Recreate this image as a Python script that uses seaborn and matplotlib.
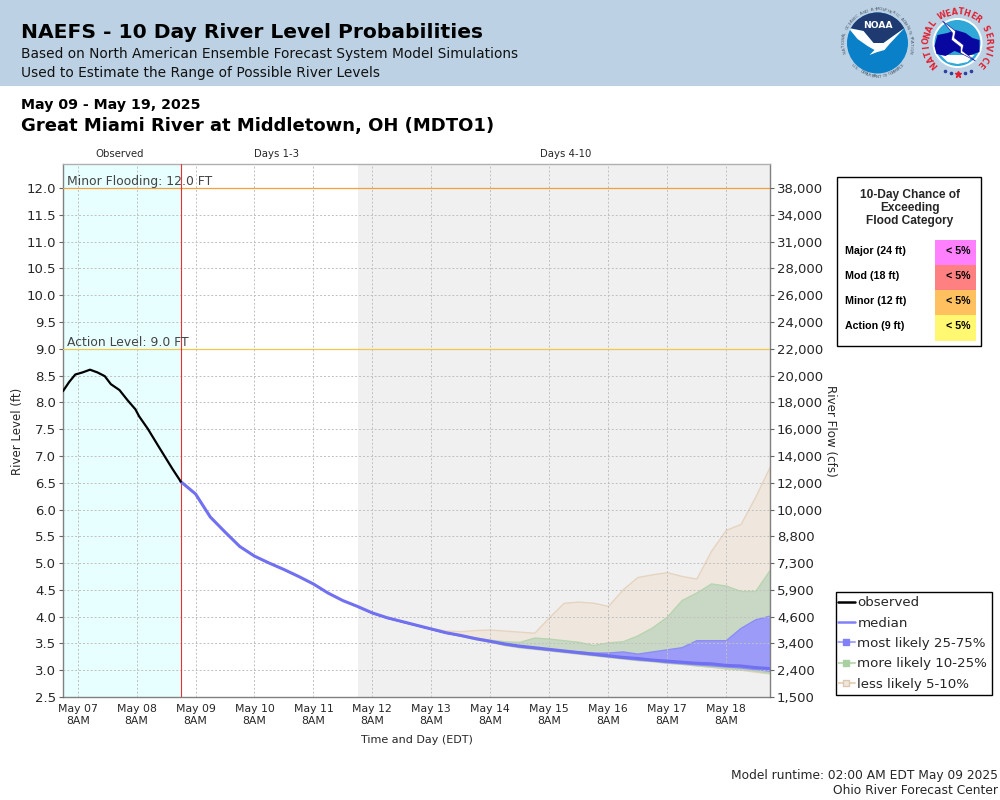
"""
NAEFS 10 day river level probabilities
Great Miami River at Middletown
"""

import numpy as np
import pandas as pd
import matplotlib
matplotlib.use("Agg")
import matplotlib.pyplot as plt
import matplotlib.dates as mdates
from matplotlib.patches import Circle, Polygon, Rectangle
from matplotlib.lines import Line2D
from matplotlib.legend_handler import HandlerTuple
import seaborn as sns

sns.set_style("white")

# hours after May 07 02:00
obs_hours = [0, 2.5, 5, 8, 11, 14, 17, 19.5, 23, 26.3, 29.5, 31, 34.5, 36.5, 39.3, 42, 44.7, 48]
obs_level = [8.21, 8.38, 8.52, 8.56, 8.61, 8.56, 8.49, 8.34, 8.23, 8.04, 7.87, 7.74,
             7.51, 7.36, 7.15, 6.95, 6.75, 6.52]

# forecast is every 6 hours from May 09 02:00
median = [6.52, 6.29, 5.86, 5.58, 5.31, 5.13, 5.00, 4.88, 4.75, 4.61, 4.44, 4.30,
          4.19, 4.07, 3.98, 3.91, 3.84, 3.77, 3.70, 3.65, 3.59, 3.54, 3.49, 3.45,
          3.42, 3.39, 3.36, 3.33, 3.30, 3.27, 3.24, 3.22, 3.19, 3.17, 3.15, 3.13,
          3.12, 3.09, 3.08, 3.05, 3.03]

# bands start at May 12 02:00
upper_95 = [4.19, 4.07, 3.99, 3.92, 3.85, 3.79, 3.74, 3.73, 3.75, 3.76, 3.74, 3.72,
            3.70, 3.99, 4.26, 4.28, 4.26, 4.20, 4.51, 4.74, 4.79, 4.83, 4.76, 4.71,
            5.23, 5.62, 5.73, 6.24, 6.81]
upper_90 = [4.19, 4.07, 3.98, 3.91, 3.84, 3.78, 3.71, 3.66, 3.61, 3.57, 3.54, 3.53,
            3.61, 3.59, 3.56, 3.53, 3.47, 3.52, 3.54, 3.65, 3.80, 4.00, 4.31, 4.45,
            4.62, 4.58, 4.48, 4.48, 4.88]
upper_75 = [4.19, 4.07, 3.98, 3.91, 3.84, 3.77, 3.70, 3.65, 3.60, 3.55, 3.50, 3.46,
            3.43, 3.40, 3.37, 3.35, 3.33, 3.33, 3.35, 3.31, 3.35, 3.39, 3.43, 3.56,
            3.56, 3.56, 3.79, 3.95, 4.02]
lower_25 = [4.19, 4.07, 3.98, 3.91, 3.84, 3.77, 3.70, 3.65, 3.59, 3.54, 3.48, 3.44,
            3.41, 3.38, 3.35, 3.32, 3.29, 3.26, 3.23, 3.20, 3.18, 3.15, 3.13, 3.11,
            3.09, 3.07, 3.05, 3.02, 2.99]
lower_10 = [4.19, 4.07, 3.98, 3.91, 3.84, 3.77, 3.70, 3.64, 3.58, 3.53, 3.47, 3.43,
            3.40, 3.37, 3.34, 3.31, 3.28, 3.25, 3.22, 3.19, 3.17, 3.14, 3.12, 3.09,
            3.07, 3.04, 3.02, 2.99, 2.95]
lower_5 = [4.19, 4.07, 3.98, 3.91, 3.84, 3.77, 3.70, 3.64, 3.58, 3.53, 3.47, 3.43,
           3.40, 3.37, 3.34, 3.31, 3.28, 3.25, 3.22, 3.19, 3.17, 3.14, 3.12, 3.09,
           3.06, 3.03, 3.01, 2.97, 2.94]

level_ticks = [2.5, 3.0, 3.5, 4.0, 4.5, 5.0, 5.5, 6.0, 6.5, 7.0, 7.5, 8.0, 8.5, 9.0,
               9.5, 10.0, 10.5, 11.0, 11.5, 12.0]
flow_labels = ["1,500", "2,400", "3,400", "4,600", "5,900", "7,300", "8,800", "10,000",
               "12,000", "14,000", "16,000", "18,000", "20,000", "22,000", "24,000",
               "26,000", "28,000", "31,000", "34,000", "38,000"]

category_names = ["Major (24 ft)", "Mod (18 ft)", "Minor (12 ft)", "Action (9 ft)"]
category_chance = ["< 5%", "< 5%", "< 5%", "< 5%"]
category_colors = ["#ff80ff", "#ff8080", "#ffc060", "#fff870"]

start = pd.Timestamp("2025-05-07 02:00")
obs_end = pd.Timestamp("2025-05-09 02:00")
gray_start = pd.Timestamp("2025-05-12 02:00")
end = pd.Timestamp("2025-05-19 02:00")

obs_df = pd.DataFrame({
    "time": start + pd.to_timedelta(obs_hours, unit="h"),
    "level": obs_level,
})
fc_df = pd.DataFrame({
    "time": pd.date_range(obs_end, periods=len(median), freq="6h"),
    "level": median,
})
band_time = pd.date_range(gray_start, periods=len(upper_95), freq="6h")

fig = plt.figure(figsize=(10, 8), dpi=100)
ax = fig.add_axes([63 / 1000, 1 - 697 / 800, (770 - 63) / 1000, (697 - 164) / 800])

########################################################
# main chart

ax.axvspan(start, obs_end, color="#e8ffff", lw=0, zorder=0)
ax.axvspan(gray_start, end, color="#f0f0f0", lw=0, zorder=0)

ax.fill_between(band_time, lower_5, upper_95, facecolor="#efe7dd", edgecolor="#e6d4c0", lw=1, zorder=1.2)
ax.fill_between(band_time, lower_10, upper_90, facecolor="#c8d8c4", edgecolor="#b8d4b0", lw=1, zorder=1.3)
ax.fill_between(band_time, lower_25, upper_75, facecolor="#9c9cf8", edgecolor="#8c8cf6", lw=1, zorder=1.4)

# grid sits over the bands, as it shows through them in the original
ax.grid(True, color="#c0c0c0", linestyle=(0, (2, 2)), linewidth=0.7)
ax.set_axisbelow(False)

ax.axhline(12.0, color="#f5a03c", lw=0.9, zorder=2.6)
ax.axhline(9.0, color="#f0c850", lw=0.9, zorder=2.6)
ax.axvline(obs_end, color="#e83030", lw=0.8, zorder=2.6)

sns.lineplot(data=fc_df, x="time", y="level", color="#7070f0", lw=2.2, ax=ax, zorder=3,
             errorbar=None, legend=False)
sns.lineplot(data=obs_df, x="time", y="level", color="black", lw=1.6, ax=ax, zorder=4,
             errorbar=None, legend=False)

ax.text(start + pd.Timedelta(hours=1.5), 12.01, "Minor Flooding: 12.0 FT", fontsize=8.9,
        color="#444444", va="bottom", zorder=5)
ax.text(start + pd.Timedelta(hours=1.5), 9.0, "Action Level: 9.0 FT", fontsize=8.9,
        color="#444444", va="bottom", zorder=5)

ax.set_xlim(start, end)
ax.set_ylim(2.5, 12.45)
ax.set_yticks(level_ticks)
ax.set_yticklabels([f"{v:.1f}" for v in level_ticks], fontsize=9.5)
ax.set_xticks(pd.date_range("2025-05-07 08:00", periods=12, freq="D"))
ax.xaxis.set_major_formatter(mdates.DateFormatter("%b %d\n8AM"))
ax.tick_params(axis="x", labelsize=7.8, length=3, width=0.8, color="#666666", pad=2)
ax.tick_params(axis="y", length=3, width=0.8, color="#666666", pad=2, left=True)
ax.set_xlabel("")
ax.set_ylabel("")

for side in ax.spines:
    ax.spines[side].set_color("#808080")
    ax.spines[side].set_linewidth(1)
ax.spines["top"].set_color("#b0b0b0")

ax2 = ax.twinx()
ax2.set_ylim(ax.get_ylim())
ax2.set_yticks(level_ticks)
ax2.set_yticklabels(flow_labels, fontsize=9.5)
ax2.tick_params(axis="y", length=3, width=0.8, color="#666666", pad=2, right=True)
ax2.grid(False)
for side in ax2.spines:
    ax2.spines[side].set_visible(False)

legend_handles = [
    Line2D([0], [0], color="black", lw=1.8),
    Line2D([0], [0], color="#8080f8", lw=1.8),
    (Line2D([0], [0], color="#a8a8f8", lw=1.5), Line2D([0], [0], color="none", marker="s", ms=4.5, mfc="#8080f8", mec="#8080f8")),
    (Line2D([0], [0], color="#c0d8b8", lw=1.5), Line2D([0], [0], color="none", marker="s", ms=4.5, mfc="#a8d0a0", mec="#a8d0a0")),
    (Line2D([0], [0], color="#e6d4c0", lw=1.5), Line2D([0], [0], color="none", marker="s", ms=4.5, mfc="#efe7dd", mec="#dcc8b0")),
]
legend_labels = ["observed", "median", "most likely 25-75%", "more likely 10-25%", "less likely 5-10%"]

########################################################
# overlay in pixel coordinates

over = fig.add_axes([0, 0, 1, 1], zorder=10)
over.set_xlim(0, 1000)
over.set_ylim(800, 0)
over.axis("off")


def ring_text(text, cx, cy, r, a0, a1, size, color, weight="normal", inside_up=True):
    angles = np.linspace(a0, a1, len(text))
    for ch, a in zip(text, angles):
        rad = np.radians(a)
        x = cx + r * np.cos(rad)
        y = cy - r * np.sin(rad)
        rot = a - 90 if inside_up else a + 90
        over.text(x, y, ch, fontsize=size, color=color, weight=weight, rotation=rot,
                  rotation_mode="anchor", ha="center", va="center")


over.add_patch(Rectangle((0, 0), 1000, 86, facecolor="#bcd2e4", edgecolor="none"))
over.text(21, 33, "NAEFS - 10 Day River Level Probabilities", fontsize=14.6, weight="bold", va="center", color="black")
over.text(21, 54, "Based on North American Ensemble Forecast System Model Simulations", fontsize=9.95, va="center", color="#111111")
over.text(21, 73, "Used to Estimate the Range of Possible River Levels", fontsize=9.95, va="center", color="#111111")
over.text(21, 105, "May 09 - May 19, 2025", fontsize=10.2, weight="bold", va="center", color="black")
over.text(21, 126, "Great Miami River at Middletown, OH (MDTO1)", fontsize=13, weight="bold", va="center", color="black")

over.text(120, 154, "Observed", fontsize=7.3, ha="center", va="center")
over.text(276, 154, "Days 1-3", fontsize=7.3, ha="center", va="center")
over.text(566, 154, "Days 4-10", fontsize=7.3, ha="center", va="center")

over.text(18, 431, "River Level (ft)", fontsize=8.5, rotation=90, ha="center", va="center")
over.text(831, 431, "River Flow (cfs)", fontsize=8.6, rotation=-90, ha="center", va="center")
over.text(417, 740, "Time and Day (EDT)", fontsize=8, ha="center", va="center")

over.text(998, 775, "Model runtime: 02:00 AM EDT May 09 2025", fontsize=8.85, ha="right", va="center")
over.text(998, 791, "Ohio River Forecast Center", fontsize=8.85, ha="right", va="center")

# flood category box
over.add_patch(Rectangle((836.5, 176.5), 144, 169, facecolor="white", edgecolor="black", lw=1))
for i, line in enumerate(["10-Day Chance of", "Exceeding", "Flood Category"]):
    over.text(910, 195 + i * 13, line, fontsize=8.6, family="Liberation Sans", weight="bold", ha="center", va="center")
for i, (name, chance, col) in enumerate(zip(category_names, category_chance, category_colors)):
    top = 240 + i * 25
    over.add_patch(Rectangle((935, top), 41, 25 + (1 if i == 3 else 0), facecolor=col, edgecolor="none"))
    over.text(845, top + 11, name, fontsize=7.7, family="Liberation Sans", weight="bold", va="center", color="black")
    over.text(970, top + 11, chance, fontsize=7.7, family="Liberation Sans", weight="bold", ha="right", va="center", color="black")

# NOAA logo
cx, cy = 877.5, 43
over.add_patch(Circle((cx, cy), 30.5, facecolor="#0a80c8", edgecolor="none"))
top_part = Polygon([(cx - 33, cy - 33), (cx + 33, cy - 33), (cx + 33, cy - 18), (cx + 27, cy - 15), (cx + 6, cy),
                    (cx - 4, cy), (cx - 14, cy - 12), (cx - 28, cy - 15), (cx - 33, cy - 16)],
                   facecolor="#1e3a70", edgecolor="none")
over.add_patch(top_part)
top_part.set_clip_path(Circle((cx, cy), 30.5, transform=over.transData))
swoosh = Polygon([(cx - 29, cy - 15), (cx - 14, cy - 12), (cx - 4, cy), (cx + 6, cy), (cx + 27, cy - 15),
                  (cx + 12, cy + 1), (cx + 7, cy + 7), (cx, cy + 9), (cx - 8, cy + 12), (cx - 3, cy + 7),
                  (cx - 10, cy + 3), (cx - 20, cy - 4)], facecolor="white", edgecolor="none")
over.add_patch(swoosh)
swoosh.set_clip_path(Circle((cx, cy), 30.5, transform=over.transData))
over.text(cx, cy - 18, "NOAA", fontsize=6.6, weight="bold", color="white", ha="center", va="center")
ring_text("NATIONAL OCEANIC AND ATMOSPHERIC ADMINISTRATION", cx, cy, 33.5, 195, -15, 3, "#4a5868")
ring_text("U.S. DEPARTMENT OF COMMERCE", cx, cy, 33.5, 222, 318, 3, "#4a5868", inside_up=False)

# NWS logo
cx, cy = 957.5, 43
over.add_patch(Circle((cx, cy), 25, facecolor="white", edgecolor="none"))
over.add_patch(Circle((cx, cy), 23, facecolor="#30a8d8", edgecolor="none"))
over.add_patch(Polygon([(cx - 17, cy + 12), (cx + 17, cy + 12), (cx + 10, cy + 19), (cx, cy + 21), (cx - 10, cy + 19)],
                       facecolor="white", edgecolor="none"))
cloud = Polygon([(cx - 23, cy + 3), (cx - 20, cy - 8), (cx - 10, cy - 10), (cx - 2, cy - 13), (cx + 8, cy - 10),
                 (cx + 15, cy - 5), (cx + 22, cy - 3), (cx + 22, cy + 9), (cx + 10, cy + 13), (cx - 3, cy + 8),
                 (cx - 12, cy + 13), (cx - 21, cy + 11)], facecolor="#0808a0", edgecolor="none")
over.add_patch(cloud)
bolt = Polygon([(cx - 15, cy - 22), (cx - 2, cy - 12), (cx - 3, cy - 5), (cx + 6, cy + 2), (cx + 5, cy + 8),
                (cx + 18, cy + 18), (cx + 3, cy + 10), (cx + 3, cy + 4), (cx - 6, cy - 3), (cx - 5, cy - 10)],
               facecolor="white", edgecolor="#0808a0", lw=0.4)
over.add_patch(bolt)
ring_text("NATIONAL WEATHER SERVICE", cx, cy, 31, 222, -42, 5.8, "#e02030", weight="bold")
over.plot([cx - 13, cx - 7, cx + 7, cx + 13], [cy + 28, cy + 30, cy + 30, cy + 28], ls="none",
          marker="o", ms=1.6, color="#3040a0")
over.plot([cx], [cy + 31], ls="none", marker="*", ms=4.5, color="#e02030")
over.set_xlim(0, 1000)
over.set_ylim(800, 0)

# legend
over.add_patch(Rectangle((835.5, 591.5), 156, 103, facecolor="white", edgecolor="black", lw=1))
leg = over.legend(legend_handles, legend_labels, loc="upper left", bbox_to_anchor=(0.8365, 1 - 595 / 800),
                  frameon=False, fontsize=9.65, handlelength=1.25, handletextpad=0.2, labelspacing=0.55,
                  borderaxespad=0, borderpad=0.1, handler_map={tuple: HandlerTuple(ndivide=1, pad=0)})

fig.savefig("out.png", dpi=100)
